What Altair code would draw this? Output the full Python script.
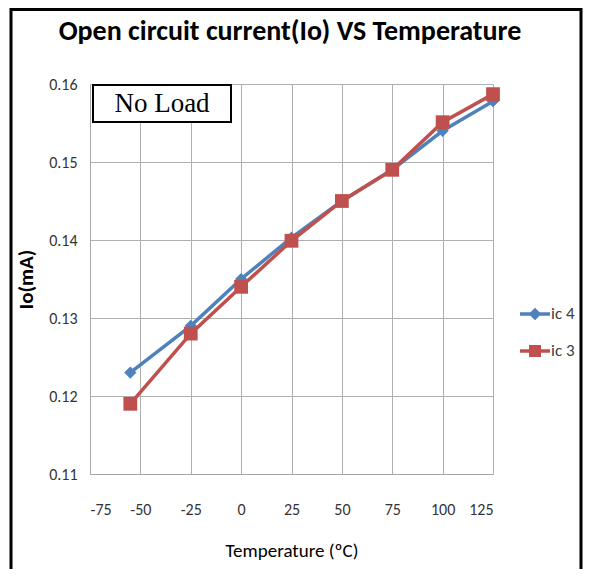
import altair as alt
import pandas as pd

temps = [-55, -25, 0, 25, 50, 75, 100, 125]
ic4 = [0.123, 0.129, 0.135, 0.1403, 0.145, 0.149, 0.154, 0.1578]
ic3 = [0.119, 0.128, 0.134, 0.1399, 0.145, 0.149, 0.1551, 0.1587]
series_names = ["ic 4", "ic 3"]
series_colors = ["#4F81BD", "#C0504D"]
x_ticks = [-75, -50, -25, 0, 25, 50, 75, 100, 125]
y_ticks = [0.11, 0.12, 0.13, 0.14, 0.15, 0.16]
title_text = "Open circuit current(Io)  VS Temperature"

rows = []
for name, vals in zip(series_names, [ic4, ic3]):
    for t, v in zip(temps, vals):
        rows.append({"Temperature": t, "Io": v, "series": name})
df = pd.DataFrame(rows)

COND = "Carlito, Lato, sans-serif"

cscale = alt.Scale(domain=series_names, range=series_colors)
x = alt.X("Temperature:Q", scale=alt.Scale(domain=[-75, 125], nice=False),
          axis=alt.Axis(values=x_ticks, format="d", title="Temperature (ºC)",
                        labelExpr="replace(datum.label, '\u2212', '-')",
                        labelPadding=27, titlePadding=24))
y = alt.Y("Io:Q", scale=alt.Scale(domain=[0.11, 0.16], nice=False, zero=False),
          axis=alt.Axis(values=y_ticks, format=".2f", title="Io(mA)",
                        labelPadding=13, titlePadding=12))

base = alt.Chart(df)

def series_layers(name, col, shape, size):
    sub = base.transform_filter(alt.datum.series == name)
    ln = sub.mark_line(strokeWidth=3.5, color=col).encode(x="Temperature:Q", y="Io:Q")
    pt = sub.mark_point(shape=shape, filled=True, size=size, opacity=1, color=col).encode(
        x="Temperature:Q", y="Io:Q")
    return [ln, pt]

legend_paths = [
    "M-1,-0.12L1,-0.12L1,0.12L-1,0.12Z M0,-0.42L0.42,0L0,0.42L-0.42,0Z",
    "M-1,-0.12L1,-0.12L1,0.12L-1,0.12Z M-0.4,-0.4L0.4,-0.4L0.4,0.4L-0.4,0.4Z",
]
leg = alt.Legend(title=None, orient="none", legendX=430, legendY=215,
                 symbolSize=900, symbolOpacity=1, symbolStrokeWidth=0,
                 labelFont=COND, labelFontSize=17, labelColor="#404040",
                 rowPadding=14, labelOffset=1)
ghost = base.mark_point(filled=True, opacity=0).encode(
    x="Temperature:Q", y="Io:Q",
    color=alt.Color("series:N", scale=cscale, legend=leg),
    shape=alt.Shape("series:N", scale=alt.Scale(domain=series_names, range=legend_paths), legend=leg))

one = pd.DataFrame({"a": [0]})
frame = alt.Chart(one).mark_rect(fill=None, stroke="black", strokeWidth=3).encode(
    x=alt.value(-79), x2=alt.value(491), y=alt.value(-74.5), y2=alt.value(520))
box = alt.Chart(one).mark_rect(fill="white", stroke="black", strokeWidth=2).encode(
    x=alt.value(3), x2=alt.value(141), y=alt.value(1), y2=alt.value(38))
box_text = alt.Chart(one).mark_text(text="No Load", font="Liberation Serif", fontSize=27,
                                    color="black", align="center", baseline="middle").encode(
    x=alt.value(72), y=alt.value(20))
title_mark = alt.Chart(one).mark_text(text=title_text, font=COND, fontSize=28, fontWeight="bold",
                                      color="black", align="center", baseline="middle").encode(
    x=alt.value(200), y=alt.value(-52))

chart = alt.layer(
    base.mark_line(opacity=0).encode(x=x, y=y),
    *series_layers("ic 4", series_colors[0], "diamond", 150),
    *series_layers("ic 3", series_colors[1], "square", 190),
    ghost, box, box_text, frame, title_mark
).properties(
    width=403, height=390,
    padding={"left": 82, "top": 76, "right": 90, "bottom": 95},
    autosize=alt.AutoSizeParams(type="none"),
).configure(background="white").configure_axis(
    gridColor="#B0B0B0", gridWidth=1, domainColor="#A6A6A6", domainWidth=1,
    tickColor="#A6A6A6", tickSize=0,
    labelFont=COND, labelFontSize=16, labelColor="#333333",
    titleFont=COND, titleColor="black",
).configure_axisX(titleFontSize=19, titleFontWeight="normal").configure_axisY(
    titleFontSize=21, titleFontWeight="bold"
).configure_view(stroke=None)

chart.save("out.html", embed_options={"renderer": "svg", "actions": False})
